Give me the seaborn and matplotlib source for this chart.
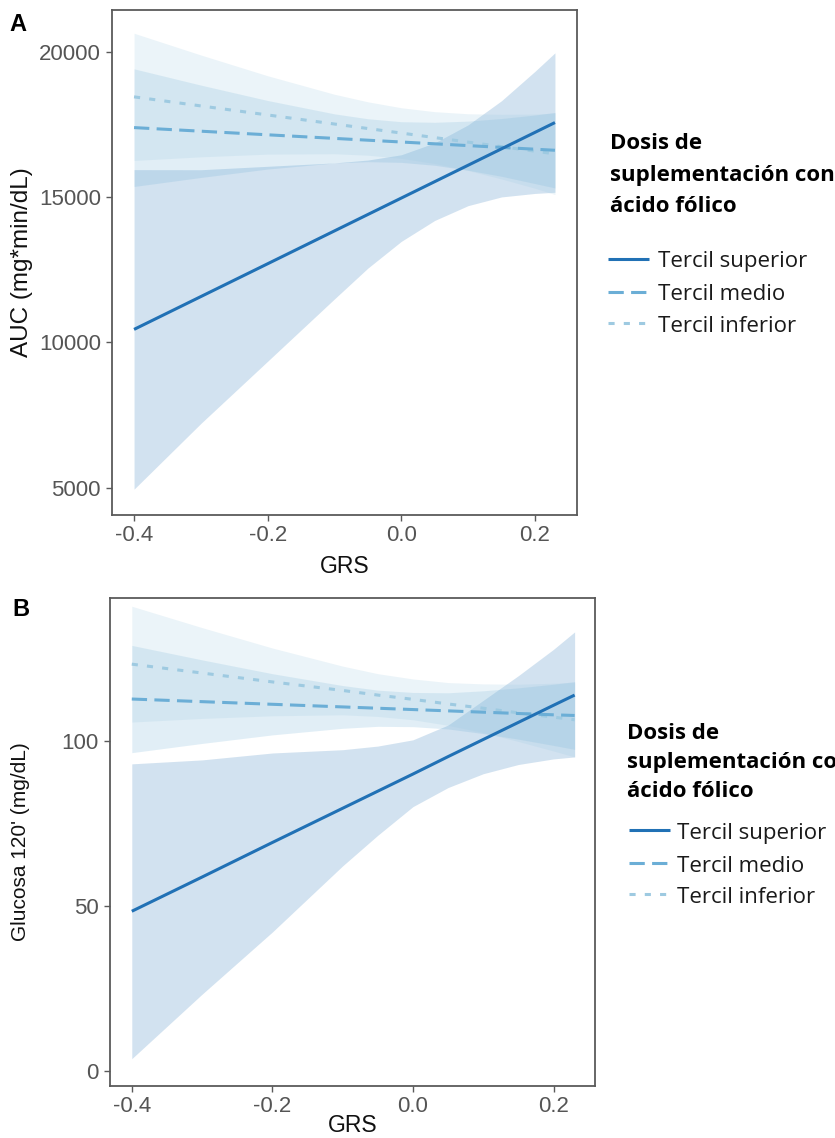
import matplotlib
matplotlib.use("Agg")
import matplotlib.pyplot as plt
import seaborn as sns
import pandas as pd
from matplotlib.lines import Line2D

# ---------------- data ----------------
grs = [-0.4, -0.3, -0.2, -0.1, -0.05, 0.0, 0.05, 0.1, 0.15, 0.2, 0.23]
grupos = ["Tercil superior", "Tercil medio", "Tercil inferior"]

# Panel A: AUC (mg*min/dL)
auc_sup = [10450, 11580, 12710, 13841, 14406, 14971, 15536, 16101, 16666, 17231, 17570]
auc_sup_lo = [4950, 7213, 9355, 11500, 12560, 13480, 14200, 14710, 15010, 15130, 15170]
auc_sup_hi = [15950, 15947, 16065, 16182, 16280, 16462, 16872, 17492, 18322, 19332, 19970]

auc_med = [17397, 17273, 17149, 17025, 16963, 16901, 16839, 16777, 16715, 16653, 16616]
auc_med_lo = [15370, 15680, 15970, 16180, 16224, 16200, 16100, 15930, 15720, 15470, 15320]
auc_med_hi = [19420, 18860, 18330, 17870, 17702, 17600, 17580, 17620, 17710, 17830, 17920]

auc_inf = [18455, 18143, 17832, 17520, 17365, 17209, 17053, 16897, 16741, 16586, 16492]
auc_inf_lo = [16265, 16390, 16483, 16496, 16446, 16338, 16161, 15921, 15628, 15310, 15093]
auc_inf_hi = [20645, 19896, 19181, 18544, 18284, 18080, 17945, 17873, 17854, 17862, 17891]

# Panel B: Glucosa 120' (mg/dL)
glu_sup = [48.4, 58.8, 69.3, 79.7, 84.9, 90.1, 95.4, 100.6, 105.8, 111.0, 114.1]
glu_sup_lo = [3.6, 23.2, 42.1, 62.2, 71.5, 80.2, 86.0, 90.2, 93.0, 94.7, 95.3]
glu_sup_hi = [93.2, 94.4, 96.5, 97.5, 98.6, 100.5, 105.0, 112.5, 120.0, 128.0, 133.3]

glu_med = [112.9, 112.1, 111.3, 110.5, 110.1, 109.7, 109.3, 108.9, 108.5, 108.1, 107.9]
glu_med_lo = [96.6, 99.4, 102.0, 104.0, 104.6, 104.5, 103.8, 102.4, 100.7, 98.8, 97.6]
glu_med_hi = [129.2, 124.8, 120.6, 117.0, 115.6, 114.9, 114.8, 115.4, 116.3, 117.4, 118.2]

glu_inf = [123.5, 120.8, 118.1, 115.5, 114.1, 112.8, 111.4, 110.1, 108.7, 107.4, 106.6]
glu_inf_lo = [105.9, 107.0, 107.8, 108.1, 107.6, 106.6, 104.9, 102.7, 100.0, 97.1, 95.3]
glu_inf_hi = [141.1, 134.6, 128.4, 122.9, 120.6, 119.0, 117.9, 117.5, 117.4, 117.7, 117.9]

x_ticks = [-0.4, -0.2, 0.0, 0.2]
x_ticklabels = ["-0.4", "-0.2", "0.0", "0.2"]
auc_ticks = [5000, 10000, 15000, 20000]
glu_ticks = [0, 50, 100]

legend_title = ["Dosis de", "suplementación con", "ácido fólico"]

# ---------------- style ----------------
sns.set_theme(style="white")
plt.rcParams["axes.unicode_minus"] = False
plt.rcParams["font.family"] = ["Liberation Sans", "DejaVu Sans"]

colors = {"Tercil superior": "#2171b5", "Tercil medio": "#6baed6", "Tercil inferior": "#9ecae1"}
dashes = {"Tercil superior": "", "Tercil medio": (5.0, 2.4), "Tercil inferior": (2.0, 3.0)}
LW = 2.2
SANS = ["Liberation Sans", "DejaVu Sans"]

W, H = 835, 1138
fig = plt.figure(figsize=(W / 100, H / 100), dpi=100)


def frac_rect(l, t, r, b):
    return [l / W, 1 - b / H, (r - l) / W, (b - t) / H]


def make_df(lines):
    rows = []
    for g, vals in zip(grupos, lines):
        for x, v in zip(grs, vals):
            rows.append({"GRS": x, "valor": v, "grupo": g})
    return pd.DataFrame(rows)


def panel(rect, lines, los, his, ylim, xlim, yticks, ylabel, ylabel_size, letter,
          letter_xy, ylab_x, xlab_y):
    ax = fig.add_axes(frac_rect(*rect))
    for g, lo, hi in zip(grupos, los, his):
        ax.fill_between(grs, lo, hi, color=colors[g], alpha=0.2, lw=0, zorder=1)
    df = make_df(lines)
    order = ["Tercil inferior", "Tercil medio", "Tercil superior"]
    for g in order:
        sub = df[df["grupo"] == g]
        sns.lineplot(data=sub, x="GRS", y="valor", color=colors[g], lw=LW,
                     estimator=None, sort=True, ax=ax, legend=False, zorder=3,
                     dashes=False)
        ln = ax.lines[-1]
        if dashes[g]:
            ln.set_dashes(dashes[g])
        ln.set_solid_capstyle("butt")
        ln.set_dash_capstyle("butt")
    ax.set_xlim(*xlim)
    ax.set_ylim(*ylim)
    ax.set_xticks(x_ticks)
    ax.set_xticklabels(x_ticklabels)
    ax.set_yticks(yticks)
    ax.set_yticklabels([str(t) for t in yticks])
    for sp in ax.spines.values():
        sp.set_visible(True)
        sp.set_color("#5a5a5a")
        sp.set_linewidth(1.3)
    ax.tick_params(axis="both", which="both", direction="out", length=4.5, width=1.0,
                   color="#5a5a5a", labelsize=16, labelcolor="#555555",
                   bottom=True, left=True)
    ax.tick_params(axis="x", pad=2.5)
    ax.tick_params(axis="y", pad=3.5)
    for lab in ax.get_xticklabels() + ax.get_yticklabels():
        lab.set_family(SANS)
    ax.set_xlabel("GRS", fontsize=16.5, family=SANS, color="#111111")
    ax.set_ylabel(ylabel, fontsize=ylabel_size, family=SANS, color="#111111")
    ax.yaxis.set_label_coords(ylab_x, 0.5)
    ax.xaxis.set_label_coords(0.5, xlab_y)
    fig.text(letter_xy[0] / W, 1 - letter_xy[1] / H, letter, fontsize=17,
             fontweight="bold", family=SANS, ha="left", va="baseline", color="black")
    return ax


def legend(x_title, title_baselines, hx0, hx1, tx, entry_baselines, hoff):
    for txt, yb in zip(legend_title, title_baselines):
        fig.text(x_title / W, 1 - yb / H, txt, fontsize=16, fontweight="bold",
                 family=["Open Sans", "DejaVu Sans"], ha="left", va="baseline",
                 color="black")
    for g, yb in zip(grupos, entry_baselines):
        yy = 1 - (yb - hoff) / H
        ln = Line2D([hx0 / W, hx1 / W], [yy, yy], transform=fig.transFigure,
                    color=colors[g], lw=LW, solid_capstyle="butt", dash_capstyle="butt")
        if dashes[g]:
            ln.set_dashes(dashes[g])
        fig.add_artist(ln)
        fig.text(tx / W, 1 - yb / H, g, fontsize=16, family=["Open Sans", "DejaVu Sans"],
                 ha="left", va="baseline", color="#1a1a1a")


# Panel A
panel((112, 10, 577, 515),
      [auc_sup, auc_med, auc_inf],
      [auc_sup_lo, auc_med_lo, auc_inf_lo],
      [auc_sup_hi, auc_med_hi, auc_inf_hi],
      ylim=(4061, 21445), xlim=(-0.433, 0.263), yticks=auc_ticks,
      ylabel="AUC (mg*min/dL)", ylabel_size=17.5, letter="A", letter_xy=(9, 31),
      ylab_x=-0.17, xlab_y=-0.08)
legend(610, [149, 181, 212], 608, 649, 658, [267, 300, 332], 8.5)

# Panel B
panel((110, 598, 595, 1086),
      [glu_sup, glu_med, glu_inf],
      [glu_sup_lo, glu_med_lo, glu_inf_lo],
      [glu_sup_hi, glu_med_hi, glu_inf_hi],
      ylim=(-4.7, 143.6), xlim=(-0.431, 0.259), yticks=glu_ticks,
      ylabel="Glucosa 120' (mg/dL)", ylabel_size=15, letter="B", letter_xy=(12, 616),
      ylab_x=-0.165, xlab_y=-0.058)
legend(627, [739, 768, 797], 629, 670, 677, [839, 872, 903], 9)

fig.savefig("out.png", dpi=100)
